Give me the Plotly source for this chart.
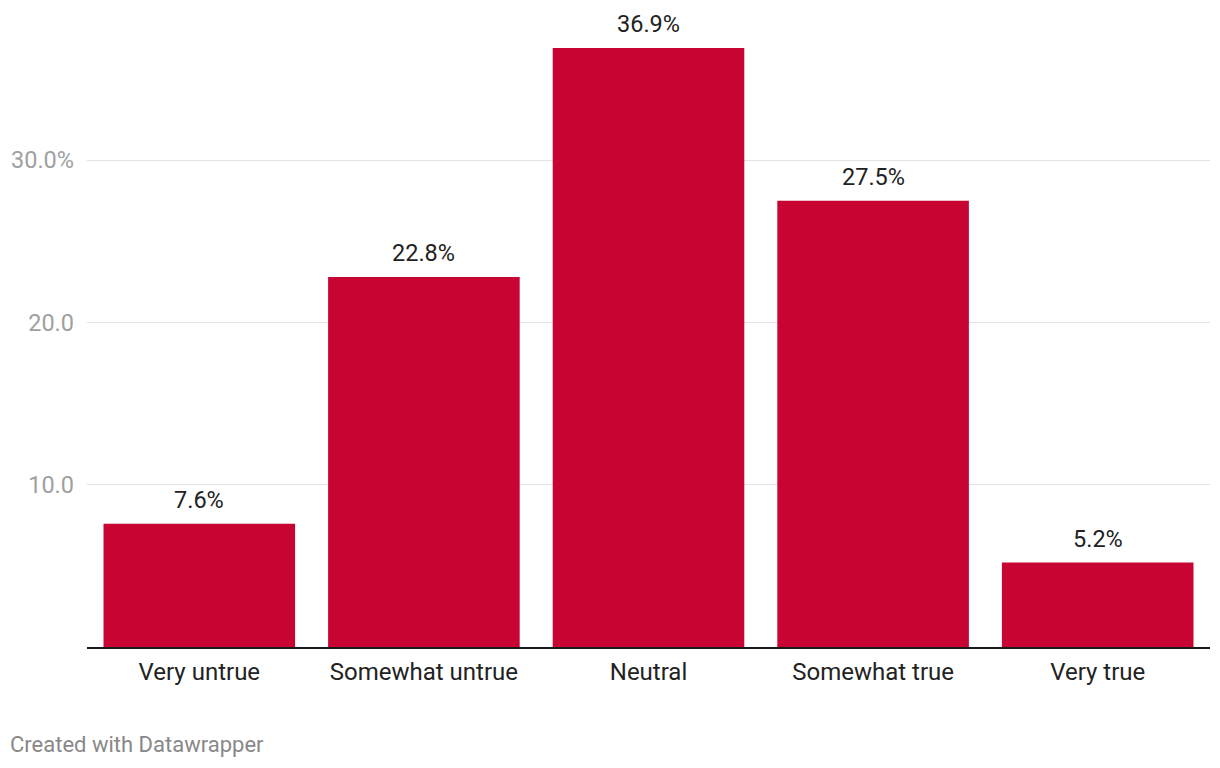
import plotly.graph_objects as go

categories = ["Very untrue", "Somewhat untrue", "Neutral", "Somewhat true", "Very true"]
values = [7.6, 22.8, 36.9, 27.5, 5.2]
tick_vals = [10, 20, 30]
tick_text = ["10.0", "20.0", "30.0%"]

fig = go.Figure(go.Bar(
    x=categories, y=values,
    marker=dict(color="#c80532", line=dict(width=0)),
    hoverinfo="x+y",
))

annotations = [dict(
    x=c, y=v, xref="x", yref="y",
    text=f"{v:.1f}%", showarrow=False,
    xanchor="center", yanchor="bottom", yshift=8,
    font=dict(family="Roboto", size=23.5, color="#222222"),
) for c, v in zip(categories, values)]

annotations.append(dict(
    text="Created with Datawrapper",
    xref="paper", yref="paper",
    x=-79/1123, y=-98/633,
    xanchor="left", yanchor="middle",
    showarrow=False,
    font=dict(family="Roboto", size=22, color="#888888"),
))

fig.update_layout(
    width=1220, height=768,
    paper_bgcolor="white", plot_bgcolor="white",
    margin=dict(l=87, r=10, t=14, b=121),
    bargap=0.147,
    showlegend=False,
    font=dict(family="Roboto"),
    xaxis=dict(
        showline=True, linecolor="#1a1a1a", linewidth=2,
        showgrid=False, ticks="",
        tickfont=dict(family="Roboto", size=24, color="#222222"),
        ticklabelstandoff=2,
    ),
    yaxis=dict(
        range=[0, 39],
        tickvals=tick_vals, ticktext=tick_text,
        showgrid=True, gridcolor="#e2e2e2", gridwidth=1,
        zeroline=False, showline=False, ticks="",
        tickfont=dict(family="Roboto", size=23.5, color="#a0a0a0"),
        ticklabelstandoff=12,
    ),
    annotations=annotations,
)

fig.write_html("out.html", config={"displayModeBar": False},
               post_script="document.body.style.margin='0';")
